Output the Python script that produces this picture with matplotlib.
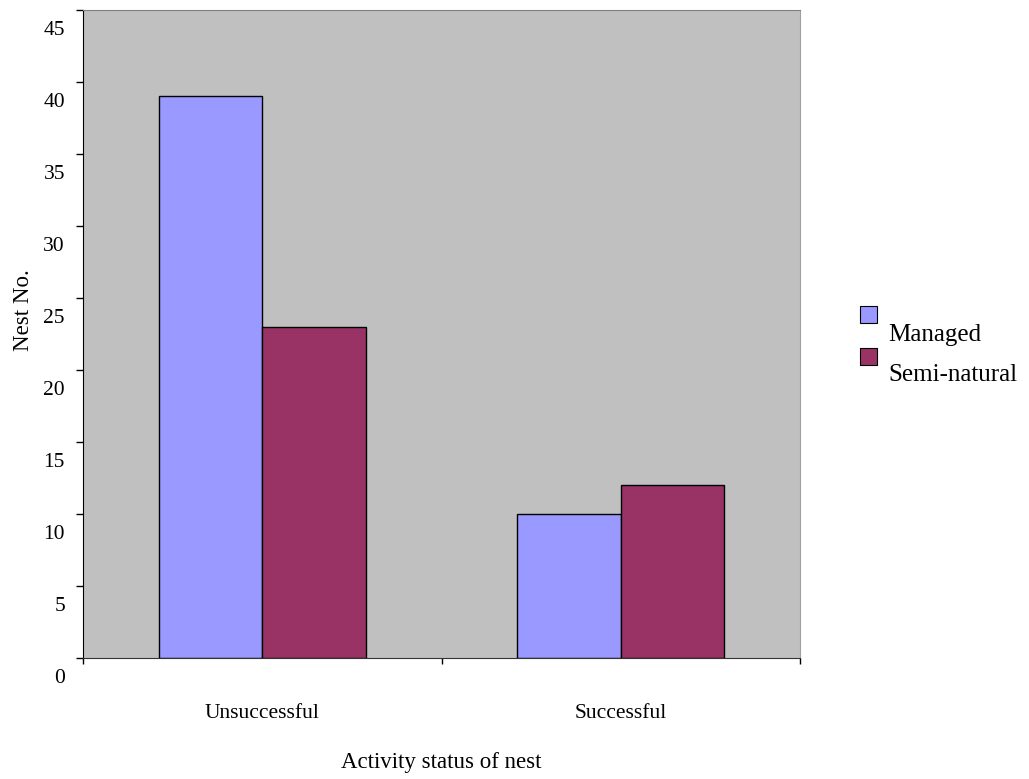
import matplotlib.pyplot as plt
import numpy as np
from matplotlib.patches import Rectangle
from matplotlib.ticker import FixedLocator
from matplotlib.transforms import ScaledTranslation

plt.rcParams['font.family'] = ['Liberation Serif', 'DejaVu Serif']

# nest counts by activity status
categories = ["Unsuccessful", "Successful"]
series = ["Managed", "Semi-natural"]
managed = [39, 10]
semi_natural = [23, 12]
colors = ["#9999FF", "#993366"]
yticks = [0, 5, 10, 15, 20, 25, 30, 35, 40, 45]

fig = plt.figure(figsize=(10.29, 7.79), dpi=100)
ax = fig.add_axes([0.0807, 0.1553, 0.6968, 0.8318])
ax.set_facecolor("#C0C0C0")

x = np.arange(len(categories))
width = 0.289
for i, (vals, col) in enumerate(zip([managed, semi_natural], colors)):
    ax.bar(x + (i - 0.5) * width, vals, width=width, color=col,
           edgecolor="black", linewidth=1, zorder=2)

ax.set_xlim(-0.5, len(categories) - 0.5)
ax.set_ylim(0, 45)

# y axis: ticks out, labels sitting a bit below their tick (Excel style)
ax.set_yticks(yticks)
ax.set_yticklabels([str(v) for v in yticks], fontsize=15.5)
ax.tick_params(axis="y", direction="out", length=5, width=1, pad=8)
shift = ScaledTranslation(0, -0.18, fig.dpi_scale_trans)
for lbl in ax.get_yticklabels():
    lbl.set_transform(lbl.get_transform() + shift)

# x axis: category labels, tick marks on the category boundaries
ax.set_xticks(x)
ax.set_xticklabels(categories, fontsize=15.5)
ax.tick_params(axis="x", which="major", length=0, pad=33)
ax.xaxis.set_minor_locator(FixedLocator(np.arange(-0.5, len(categories), 1.0)))
ax.tick_params(axis="x", which="minor", direction="out", length=4.5, width=1)

ax.spines["left"].set_color("black")
ax.spines["bottom"].set_color("#333333")
ax.spines["top"].set_color("#808080")
ax.spines["right"].set_color("#A0A0A0")

ax.set_xlabel("Activity status of nest", fontsize=16.5)
ax.xaxis.set_label_coords(0.5, -0.145)
ax.set_ylabel("Nest No.", fontsize=16.5)
ax.yaxis.set_label_coords(-0.068, 0.537)

# legend: swatch above-left of each name
for i, (name, col) in enumerate(zip(series, colors)):
    top = 306 + 42 * i
    fig.patches.append(Rectangle((860 / 1029, 1 - (top + 17) / 779), 17 / 1029, 17 / 779,
                                 transform=fig.transFigure, facecolor=col,
                                 edgecolor="black", linewidth=0.8))
    fig.text(888 / 1029, 1 - (341 + 40 * i) / 779, name, fontsize=18, va="baseline")

fig.savefig("out.png", dpi=100)
